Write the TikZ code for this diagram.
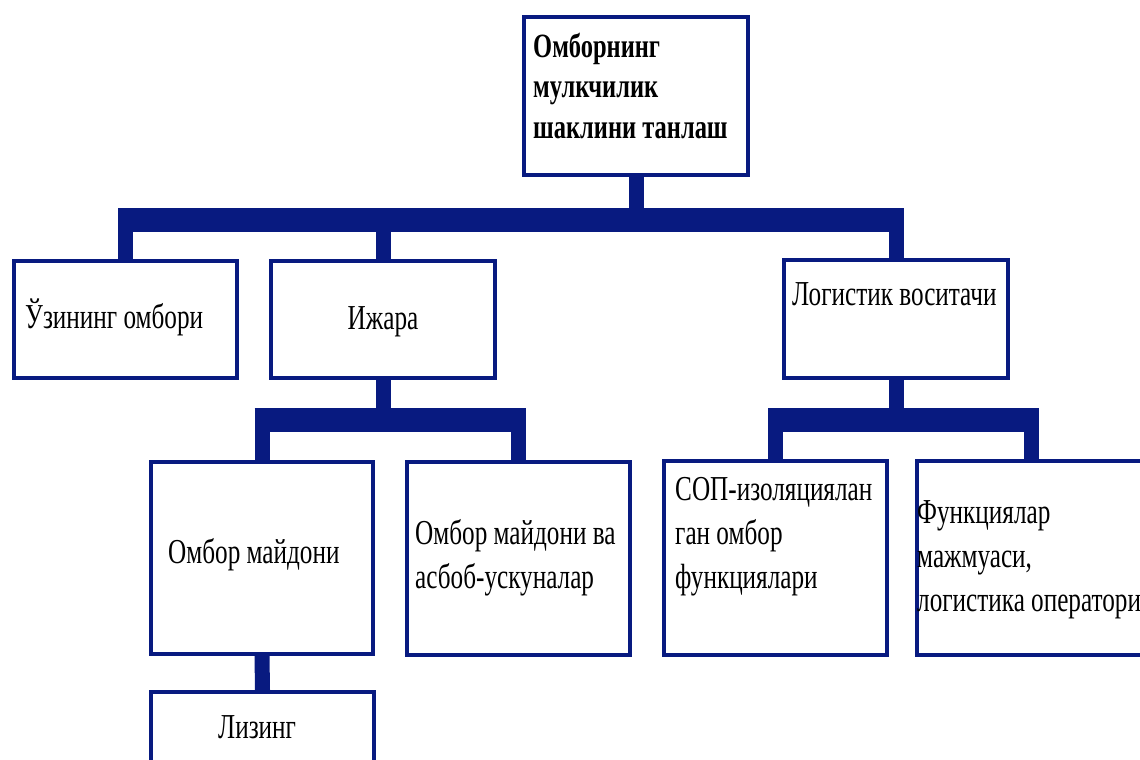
\documentclass[tikz,border=0pt]{standalone}
\usepackage{fontspec}
\setmainfont{Liberation Serif}[FakeStretch=0.72]
\definecolor{navy}{RGB}{8,26,128}
\begin{document}
\begin{tikzpicture}[x=1pt,y=-1pt,
  box/.style={draw=navy, line width=4pt, fill=white, rectangle, anchor=north west, inner sep=0pt},
  txt/.style={anchor=base west, align=left, inner sep=0pt, font=\fontsize{35}{44}\selectfont},
  ttl/.style={anchor=base west, align=left, inner sep=0pt, font=\bfseries\fontsize{34}{40.5}\selectfont},
  stem/.style={draw=navy, line width=15pt},
  bar/.style={draw=navy, line width=24pt, shorten <=-7.5pt, shorten >=-7.5pt}]
\path[use as bounding box, clip] (0,0) rectangle (1140,760);
% boxes
\node[box, minimum width=224pt, minimum height=158pt] (top) at (522,15) {};
\node[box, minimum width=223pt, minimum height=117pt] (uz) at (12,259) {};
\node[box, minimum width=224pt, minimum height=117pt] (ij) at (269,259) {};
\node[box, minimum width=224pt, minimum height=118pt] (log) at (782,258) {};
\node[box, minimum width=222pt, minimum height=192pt] (om) at (149,460) {};
\node[box, minimum width=223pt, minimum height=193pt] (omv) at (405,460) {};
\node[box, minimum width=223pt, minimum height=120pt] (lz) at (149,690) {};
\node[box, minimum width=223pt, minimum height=194pt] (sop) at (662,459) {};
\node[box, minimum width=228pt, minimum height=194pt] (fn) at (915,459) {};
% connectors
\coordinate (b1) at (0,220);
\coordinate (b2) at (0,420);
\draw[stem] (top.south) -- (top.south |- b1);
\draw[bar] (uz.north |- b1) -- (log.north |- b1);
\draw[stem] (uz.north) -- (uz.north |- b1);
\draw[stem] (ij.north) -- (ij.north |- b1);
\draw[stem] (log.north) -- (log.north |- b1);
\draw[stem] (ij.south) -- (ij.south |- b2);
\draw[bar] (om.north |- b2) -- (omv.north |- b2);
\draw[stem] (om.north) -- (om.north |- b2);
\draw[stem] (omv.north) -- (omv.north |- b2);
\draw[stem] (log.south) -- (log.south |- b2);
\draw[bar] (sop.north |- b2) -- (fn.north |- b2);
\draw[stem] (sop.north) -- (sop.north |- b2);
\draw[stem] (fn.north) -- (fn.north |- b2);
\draw[stem] (om.south) -- (lz.north);
% texts (base anchor of a multi-line node = last line's baseline)
\node[ttl] (ttop) at (533,138) {Омборнинг\\мулкчилик\\шаклини танлаш};
\node[txt] (tuz) at (25,328) {Ўзининг омбори};
\node[txt, anchor=base] (tij) at (ij.north |- 0,329) {Ижара};
\node[txt] (tlog) at (792,305) {Логистик воситачи};
\node[txt] (tom) at (168,563) {Омбор майдони};
\node[txt] (tomv) at (415,588) {Омбор майдони ва\\асбоб-ускуналар};
\node[txt] (tlz) at (218,738) {Лизинг};
\node[txt] (tsop) at (675,588) {СОП-изоляциялан\\ган омбор\\функциялари};
\node[txt] (tfn) at (917,611) {Функциялар\\мажмуаси,\\логистика оператори};
\end{tikzpicture}
\end{document}
